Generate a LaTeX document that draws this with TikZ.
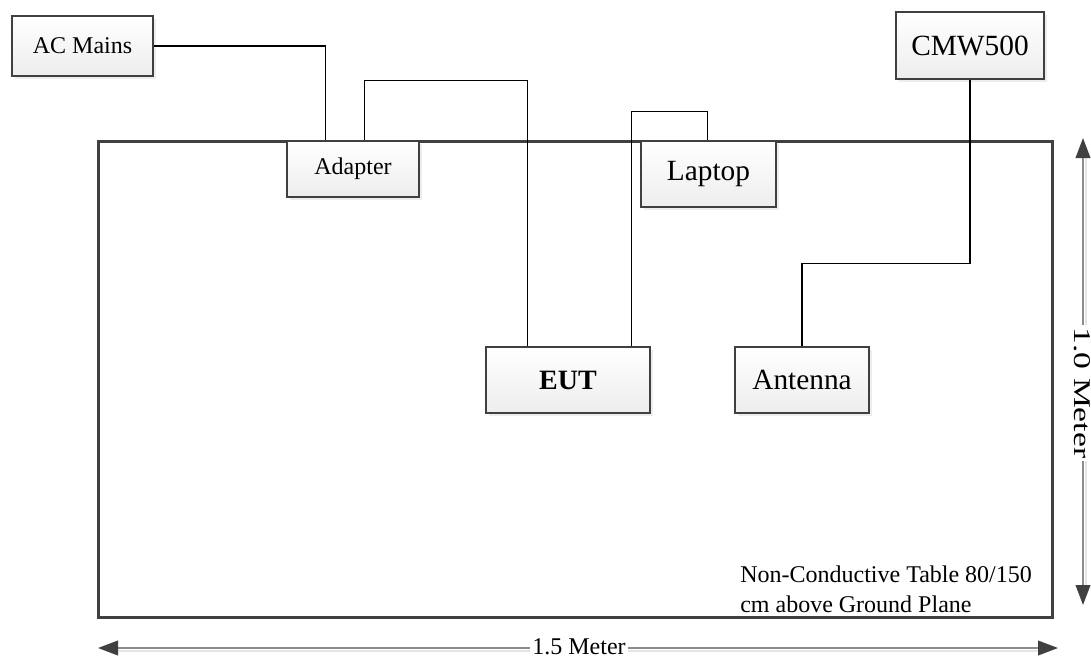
\documentclass[tikz,border=0pt]{standalone}
\usepackage{fontspec}
\setmainfont{Liberation Serif}
\usetikzlibrary{shadows,calc,arrows.meta}
\definecolor{edge}{HTML}{404040}
\definecolor{dimline}{HTML}{8C8C8C}
\begin{document}
\begin{tikzpicture}[x=0.75pt,y=-0.75pt,
  box/.style={draw=edge, line width=1.9pt, top color=white, bottom color=black!7,
    drop shadow={shadow xshift=2.4pt, shadow yshift=-2.4pt, fill=black!14},
    inner sep=0pt},
  table/.style={draw=edge, line width=2.25pt, inner sep=0pt},
  conn/.style={line width=0.8pt, black},
  dimarrow/.style={line width=1.3pt, dimline,
    {Triangle[length=15pt,width=11pt,color=edge]}-{Triangle[length=15pt,width=11pt,color=edge]}},
  dimshadow/.style={line width=1.3pt, black!10},
  dimlabel/.style={fill=white, inner sep=1.5pt, font=\fontsize{18}{21}\selectfont},
  big/.style={font=\fontsize{22}{26}\selectfont},
  small/.style={font=\fontsize{18}{21}\selectfont}]
\useasboundingbox (0,0) rectangle (1091,658);

% table
\node[table, minimum width=715.5pt, minimum height=357pt] (tbl) at (575,379) {};
\node[anchor=north west, inner sep=0pt, align=left,
  font=\fontsize{18}{22}\selectfont] (tbltxt) at (740,566)
  {Non-Conductive Table 80/150\\cm above Ground Plane};

% boxes
\node[box, small, minimum width=105.75pt, minimum height=45pt] (ac) at (82.5,46) {AC Mains};
\node[box, big, minimum width=111pt, minimum height=50.25pt] (cmw) at (970,45.5) {CMW500};
\node[box, small, minimum width=99pt, minimum height=42pt] (ad) at (353,169) {Adapter};
\node[box, big, minimum width=101.25pt, minimum height=49.5pt] (lap) at (708.5,174) {Laptop};
\node[box, font=\fontsize{21}{25}\selectfont\bfseries, minimum width=123pt, minimum height=49.5pt] (eut) at (568,380) {EUT};
\node[box, big, minimum width=100.5pt, minimum height=49.5pt] (ant) at (802,380) {Antenna};

% connectors
\draw[conn] (ac.east) -| ($(ad.north west)+(40,0)$);
\draw[conn] ($(ad.north west)+(79,0)$) -- ++(0,-59) -| ($(eut.north west)+(43,0)$);
\draw[conn] ($(lap.north west)+(68,0)$) -- ++(0,-28) -| ($(eut.north east)+(-20,0)$);
\draw[conn] (cmw.south) -- ++(0,183) -| (ant.north);

% dimensions
\coordinate (hl) at (98,648);
\coordinate (hr) at (1058,648);
\coordinate (vt) at (1083,138);
\coordinate (vb) at (1083,605);
\draw[dimshadow] ($(hl)+(18,3)$) -- ($(hr)+(-18,3)$);
\draw[dimshadow] ($(vt)+(3,18)$) -- ($(vb)+(3,-18)$);
\draw[dimarrow] (hl) -- (hr);
\draw[dimarrow] (vt) -- (vb);
\node[dimlabel] (hlab) at (579,647) {1.5 Meter};
\node[dimlabel, rotate=-90, xscale=1.4] (vlab) at (1082,393) {1.0 Meter};
\end{tikzpicture}
\end{document}
